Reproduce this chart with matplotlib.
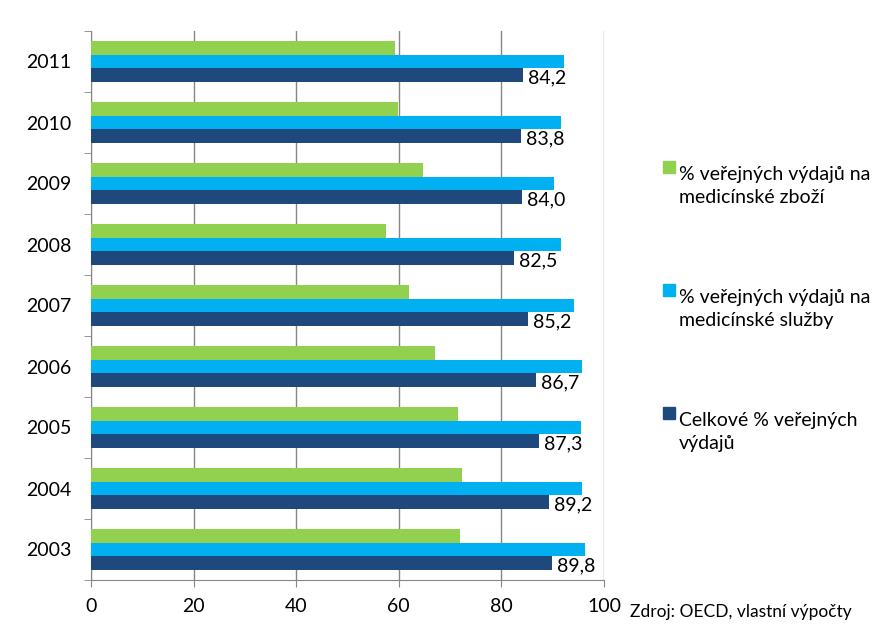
import numpy as np
import matplotlib.pyplot as plt
from matplotlib.patches import Rectangle

years = ["2003", "2004", "2005", "2006", "2007", "2008", "2009", "2010", "2011"]
goods = [71.9, 72.3, 71.5, 67.1, 62.0, 57.5, 64.7, 59.8, 59.3]
services = [96.3, 95.7, 95.5, 95.7, 94.2, 91.6, 90.3, 91.6, 92.2]
total = [89.8, 89.2, 87.3, 86.7, 85.2, 82.5, 84.0, 83.8, 84.2]

labels = ["% veřejných výdajů na\nmedicínské zboží",
          "% veřejných výdajů na\nmedicínské služby",
          "Celkové % veřejných\nvýdajů"]
colors = ["#92D050", "#00B0F0", "#1F497D"]

plt.rcParams['font.family'] = ['Lato', 'DejaVu Sans']
W, H = 891, 640

fig = plt.figure(figsize=(8.91, 6.4), dpi=100)
ax = fig.add_axes([91/W, 1 - 580/H, 513/W, 549/H])

y = np.arange(len(years))
h = 0.22
ax.barh(y + h, goods, height=h, color=colors[0], zorder=3)
ax.barh(y, services, height=h, color=colors[1], zorder=3)
bars = ax.barh(y - h, total, height=h, color=colors[2], zorder=3)

for b, v in zip(bars, total):
    ax.text(b.get_width() + 1, b.get_y() + b.get_height() / 2 - 0.05,
            f"{v:.1f}".replace(".", ","), va="center", ha="left",
            fontsize=14, zorder=4)

ax.set_xlim(0, 100)
ax.set_ylim(-0.5, len(years) - 0.5)
ax.set_xticks(range(0, 101, 20))
ax.set_yticks(y)
ax.set_yticklabels(years)
ax.set_yticks(np.arange(-0.5, len(years), 1), minor=True)
ax.tick_params(axis="y", which="major", length=0, pad=14, labelsize=14)
ax.tick_params(axis="y", which="minor", length=5, color="#868686")
ax.tick_params(axis="x", length=5, color="#868686", labelsize=14, pad=8)
ax.grid(axis="x", color="#868686", linewidth=1, zorder=0)
for s in ["top", "right"]:
    ax.spines[s].set_visible(False)
for s in ["left", "bottom"]:
    ax.spines[s].set_color("#868686")

# legend drawn by hand, square next to the first line of each entry
for i, (lab, c) in enumerate(zip(labels, colors)):
    top = 161 + 123 * i
    fig.patches.append(Rectangle((663/W, 1 - (top + 12)/H), 12/W, 12/H,
                                 transform=fig.transFigure, color=c))
    # baseline of the second line
    fig.text(679/W, 1 - (top + 42)/H, lab, fontsize=14, va="baseline",
             ha="left", linespacing=1.45)

fig.text(630/W, 1 - 617/H, "Zdroj: OECD, vlastní výpočty", fontsize=12.5,
         va="baseline", ha="left")

fig.savefig("out.png", dpi=100)
